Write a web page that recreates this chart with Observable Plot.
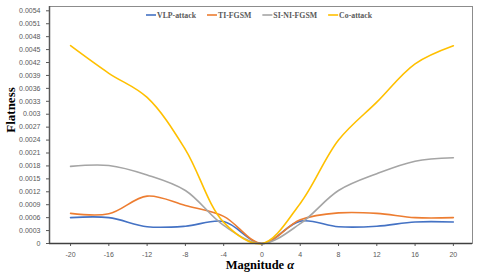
<!DOCTYPE html>
<html>
<head>
<meta charset="utf-8">
<script src="https://cdn.jsdelivr.net/npm/d3@7"></script>
<script src="https://cdn.jsdelivr.net/npm/@observablehq/plot@0.6"></script>
<style>
  html, body { margin: 0; padding: 0; background: #fff; }
  #chart { width: 485px; height: 273px; }
</style>
</head>
<body>
<div id="chart"></div>
<script>
const magnitudes = [-20, -16, -12, -8, -4, 0, 4, 8, 12, 16, 20];
const vlpAttack  = [0.00060, 0.00060, 0.00039, 0.00040, 0.00051, 0, 0.00052, 0.00039, 0.00040, 0.00050, 0.00050];
const tiFgsm     = [0.00070, 0.00069, 0.00110, 0.00088, 0.00063, 0, 0.00055, 0.00071, 0.00070, 0.00060, 0.00060];
const siNiFgsm   = [0.00179, 0.00181, 0.00159, 0.00123, 0.00042, 0, 0.00046, 0.00123, 0.00162, 0.00191, 0.00199];
const coAttack   = [0.00459, 0.00395, 0.00339, 0.00218, 0.00049, 0, 0.00093, 0.00240, 0.00328, 0.00417, 0.00459];
const seriesNames = ["VLP-attack", "TI-FGSM", "SI-NI-FGSM", "Co-attack"];
const seriesColors = ["#4472C4", "#ED7D31", "#A5A5A5", "#FFC000"];
const xTicks = [-20, -16, -12, -8, -4, 0, 4, 8, 12, 16, 20];
const yTicks = [0, 0.0003, 0.0006, 0.0009, 0.0012, 0.0015, 0.0018, 0.0021, 0.0024, 0.0027, 0.003,
                0.0033, 0.0036, 0.0039, 0.0042, 0.0045, 0.0048, 0.0051, 0.0054];

const seriesValues = [vlpAttack, tiFgsm, siNiFgsm, coAttack];
const rows = [];
seriesNames.forEach((name, i) => {
  magnitudes.forEach((m, j) => rows.push({series: name, x: m, y: seriesValues[i][j]}));
});

const tickFont = "Liberation Sans, Arial, sans-serif";

const plot = Plot.plot({
  width: 485,
  height: 273,
  marginLeft: 49,
  marginRight: 13,
  marginTop: 6,
  marginBottom: 30,
  style: {fontFamily: tickFont, fontSize: "7px", color: "#595959", background: "#fff"},
  x: {domain: [-22.2, 22], ticks: xTicks, tickFormat: d => String(d), tickSize: 3, label: null},
  y: {domain: [0, 0.0055], ticks: yTicks, tickFormat: d => String(d), tickSize: 3, label: null},
  color: {domain: seriesNames, range: seriesColors},
  marks: [
    Plot.frame({stroke: "#8c8c8c", strokeWidth: 1}),
    Plot.line(rows, {x: "x", y: "y", stroke: "series", z: "series", curve: "catmull-rom", strokeWidth: 1.6}),
    Plot.ruleX([-22.2], {stroke: "#595959", strokeWidth: 1.5}),
    Plot.ruleY([0], {stroke: "#404040", strokeWidth: 1.5})
  ]
});
document.getElementById("chart").appendChild(plot);

const svg = d3.select(plot);
const serif = "Liberation Serif, Times New Roman, serif";

// Axis titles
svg.append("text")
  .attr("transform", "translate(15,110) rotate(-90)")
  .attr("text-anchor", "middle")
  .attr("font-family", serif).attr("font-weight", "bold").attr("font-size", 13)
  .attr("fill", "#000")
  .text("Flatness");

const xt = svg.append("text")
  .attr("x", 260).attr("y", 269)
  .attr("text-anchor", "middle")
  .attr("font-family", serif).attr("font-weight", "bold").attr("font-size", 12.5)
  .attr("fill", "#000");
xt.append("tspan").text("Magnitude ");
xt.append("tspan").attr("font-style", "italic").text("α");

// Legend (laid out sequentially)
const lg = svg.append("g").attr("font-family", serif).attr("font-weight", "bold").attr("font-size", 7.8).attr("fill", "#595959");
let lx = 146;
seriesNames.forEach((name, i) => {
  lg.append("line").attr("x1", lx).attr("x2", lx + 10).attr("y1", 15).attr("y2", 15)
    .attr("stroke", seriesColors[i]).attr("stroke-width", 1.6);
  const t = lg.append("text").attr("x", lx + 11).attr("y", 17.8).attr("text-anchor", "start").text(name);
  lx += 11 + t.node().getComputedTextLength() + 11;
});
</script>
</body>
</html>
